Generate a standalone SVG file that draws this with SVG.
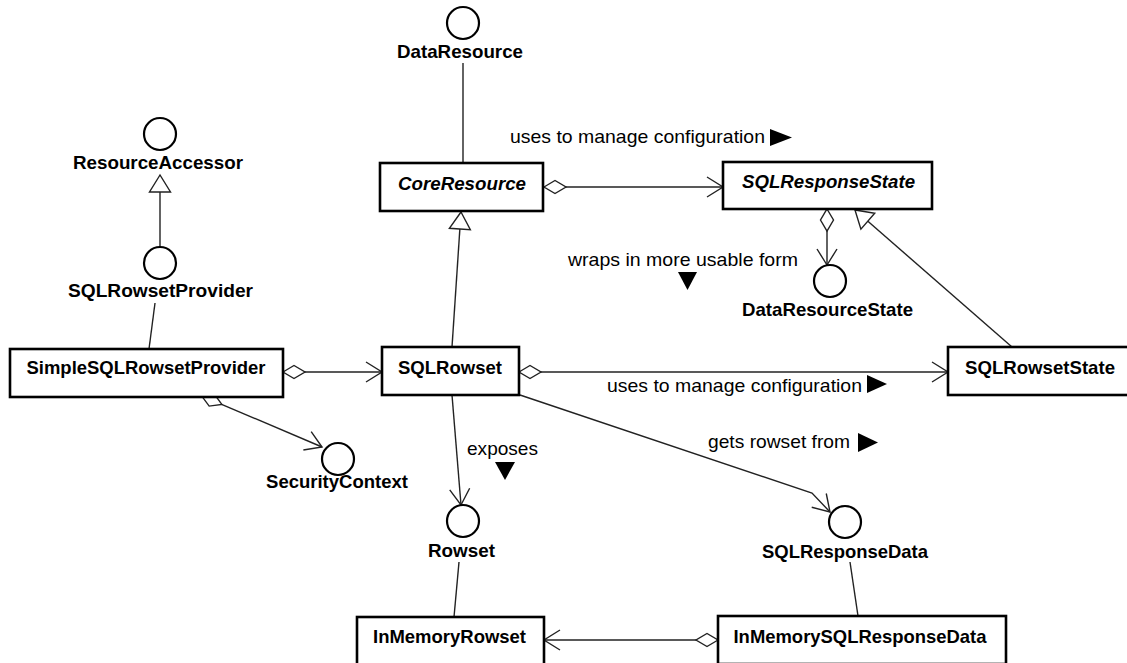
<svg xmlns="http://www.w3.org/2000/svg" width="1127" height="663" viewBox="0 0 1127 663">
<style>
.box{fill:#fff;stroke:#000;stroke-width:2.6}
.ifc{fill:#fff;stroke:#000;stroke-width:2.2}
.ln{fill:none;stroke:#222;stroke-width:1.4}
.mk{fill:#fff;stroke:#222;stroke-width:1.4}
.mo{fill:none;stroke:#222;stroke-width:1.4}
.dir{fill:#000;stroke:none}
.n{font-family:"Liberation Sans",Arial,sans-serif;font-weight:bold;font-size:18.5px;text-anchor:middle;fill:#000}
.it{font-style:italic}
.lb{font-family:"Liberation Sans",Arial,sans-serif;font-size:19px;fill:#000}
</style>
<defs>
<marker id="open" markerUnits="userSpaceOnUse" orient="auto" refX="0" refY="0" markerWidth="40" markerHeight="40" viewBox="-20 -20 40 40" overflow="visible"><path class="mo" d="M-16,-10 L0,0 L-16,10"/></marker>
<marker id="dia" markerUnits="userSpaceOnUse" orient="auto" refX="0" refY="0" markerWidth="50" markerHeight="50" viewBox="-25 -25 50 50" overflow="visible"><path class="mk" d="M0,0 L11,-6.5 L22,0 L11,6.5 Z"/></marker>
<marker id="gen" markerUnits="userSpaceOnUse" orient="auto" refX="0" refY="0" markerWidth="50" markerHeight="50" viewBox="-25 -25 50 50" overflow="visible"><path class="mk" d="M0,0 L-17,-10.5 L-17,10.5 Z"/></marker>
</defs>
<g id="connectors">
<line class="ln" x1="160" y1="247" x2="160" y2="175" marker-end="url(#gen)"/>
<line class="ln" x1="155" y1="303" x2="149" y2="349"/>
<line class="ln" x1="463" y1="63" x2="463" y2="163"/>
<line class="ln" x1="544" y1="187" x2="723" y2="187" marker-start="url(#dia)" marker-end="url(#open)"/>
<line class="ln" x1="452" y1="347" x2="461" y2="212" marker-end="url(#gen)"/>
<line class="ln" x1="827" y1="209" x2="827" y2="265" marker-start="url(#dia)" marker-end="url(#open)"/>
<line class="ln" x1="1012" y1="347" x2="855" y2="210" marker-end="url(#gen)"/>
<line class="ln" x1="283" y1="372" x2="382" y2="372" marker-start="url(#dia)" marker-end="url(#open)"/>
<line class="ln" x1="201.6" y1="395.8" x2="322" y2="447" marker-start="url(#dia)" marker-end="url(#open)"/>
<line class="ln" x1="519" y1="372" x2="948" y2="372" marker-start="url(#dia)" marker-end="url(#open)"/>
<line class="ln" x1="452" y1="395" x2="461" y2="505" marker-end="url(#open)"/>
<polyline class="ln" points="520,395 812,493 830,512" marker-end="url(#open)"/>
<line class="ln" x1="459" y1="562" x2="454" y2="617"/>
<line class="ln" x1="850" y1="562" x2="858" y2="616"/>
<line class="ln" x1="718" y1="640" x2="544" y2="640" marker-start="url(#dia)" marker-end="url(#open)"/>
<text class="lb" x="510" y="143" textLength="255" lengthAdjust="spacingAndGlyphs">uses to manage configuration</text>
<polygon class="dir" points="770,129 792,137.5 770,146"/>
<text class="lb" x="568" y="266" textLength="230" lengthAdjust="spacingAndGlyphs">wraps in more usable form</text>
<polygon class="dir" points="678,272 697,272 687.5,290"/>
<text class="lb" x="607" y="392" textLength="255" lengthAdjust="spacingAndGlyphs">uses to manage configuration</text>
<polygon class="dir" points="867,375 887,384 867,393"/>
<text class="lb" x="708" y="448" textLength="142" lengthAdjust="spacingAndGlyphs">gets rowset from</text>
<polygon class="dir" points="858,433 878,442.5 858,452"/>
<text class="lb" x="467" y="455" textLength="71" lengthAdjust="spacingAndGlyphs">exposes</text>
<polygon class="dir" points="495,462 515,462 505,480"/>
</g>
<g id="ResourceAccessor"><circle class="ifc" cx="160" cy="134" r="16"/><text class="n" x="158" y="169" textLength="170" lengthAdjust="spacingAndGlyphs">ResourceAccessor</text></g>
<g id="SQLRowsetProvider"><circle class="ifc" cx="160" cy="263" r="16"/><text class="n" x="160.5" y="297" textLength="185" lengthAdjust="spacingAndGlyphs">SQLRowsetProvider</text></g>
<g id="DataResource"><circle class="ifc" cx="463" cy="23" r="16"/><text class="n" x="460" y="58" textLength="126" lengthAdjust="spacingAndGlyphs">DataResource</text></g>
<g id="DataResourceState"><circle class="ifc" cx="830" cy="281" r="16"/><text class="n" x="827.5" y="316" textLength="171" lengthAdjust="spacingAndGlyphs">DataResourceState</text></g>
<g id="SecurityContext"><circle class="ifc" cx="338" cy="459" r="16"/><text class="n" x="337" y="488">SecurityContext</text></g>
<g id="Rowset"><circle class="ifc" cx="463" cy="521" r="16"/><text class="n" x="461.5" y="557" textLength="67" lengthAdjust="spacingAndGlyphs">Rowset</text></g>
<g id="SQLResponseData"><circle class="ifc" cx="845" cy="522" r="16"/><text class="n" x="845" y="558" textLength="166" lengthAdjust="spacingAndGlyphs">SQLResponseData</text></g>
<g id="CoreResource"><rect class="box" x="380" y="163" width="163" height="48"/><text class="n it" x="462" y="190" textLength="128" lengthAdjust="spacingAndGlyphs">CoreResource</text></g>
<g id="SQLResponseState"><rect class="box" x="723" y="162" width="209" height="47"/><text class="n it" x="828.5" y="188" textLength="173" lengthAdjust="spacingAndGlyphs">SQLResponseState</text></g>
<g id="SimpleSQLRowsetProvider"><rect class="box" x="10" y="349" width="273" height="48"/><text class="n" x="146" y="374" textLength="239" lengthAdjust="spacingAndGlyphs">SimpleSQLRowsetProvider</text></g>
<g id="SQLRowset"><rect class="box" x="382" y="347" width="137" height="48"/><text class="n" x="450" y="374" textLength="104" lengthAdjust="spacingAndGlyphs">SQLRowset</text></g>
<g id="SQLRowsetState"><rect class="box" x="948" y="347" width="184" height="48"/><text class="n" x="1040" y="374" textLength="150" lengthAdjust="spacingAndGlyphs">SQLRowsetState</text></g>
<g id="InMemoryRowset"><rect class="box" x="357" y="617" width="187" height="48"/><text class="n" x="449.5" y="643" textLength="153" lengthAdjust="spacingAndGlyphs">InMemoryRowset</text></g>
<g id="InMemorySQLResponseData"><rect class="box" x="718" y="616" width="288" height="48"/><text class="n" x="860" y="643" textLength="253" lengthAdjust="spacingAndGlyphs">InMemorySQLResponseData</text></g>
</svg>
